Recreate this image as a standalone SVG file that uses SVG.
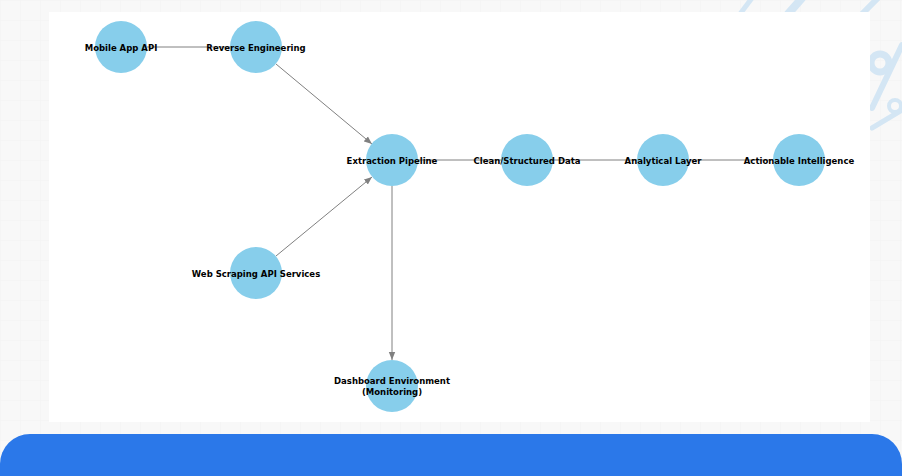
<svg xmlns="http://www.w3.org/2000/svg" width="902" height="476" viewBox="0 0 902 476">
<style>
.node circle{fill:#87ceeb}
.node text{font-family:"DejaVu Sans",sans-serif;font-weight:bold;font-size:8.5px;fill:#000;text-anchor:middle}
.edge{stroke:#808080;stroke-width:1;fill:none}
.deco{stroke:#d4e6f4;fill:none;stroke-linecap:round}
</style>
<defs>
<pattern id="grid" width="20" height="20" patternUnits="userSpaceOnUse">
<path d="M20 0H0V20" fill="none" stroke="#f2f2f2" stroke-width="1"/>
</pattern>
<marker id="arr" viewBox="0 0 10 10" refX="10" refY="5" markerWidth="8" markerHeight="8" markerUnits="userSpaceOnUse" orient="auto">
<path d="M0 1L10 5L0 9Z" fill="#808080"/>
</marker>
</defs>
<rect width="902" height="476" fill="#f8f8f8"/>
<rect width="902" height="476" fill="url(#grid)"/>
<g id="decoration">
<line class="deco" x1="740" y1="14" x2="752" y2="-2" stroke-width="5"/>
<line class="deco" x1="788" y1="14" x2="802" y2="-2" stroke-width="8"/>
<line class="deco" x1="862" y1="14" x2="878" y2="-2" stroke-width="6"/>
<circle class="deco" cx="880" cy="63" r="9" stroke-width="7"/>
<line class="deco" x1="872" y1="108" x2="902" y2="45" stroke-width="6"/>
<line class="deco" x1="872" y1="128" x2="902" y2="110" stroke-width="5"/>
<circle class="deco" cx="895" cy="106" r="6" stroke-width="4"/>
</g>
<rect x="49" y="12" width="821" height="410" fill="#ffffff"/>
<path d="M0 476V464A30 30 0 0 1 30 434H872A30 30 0 0 1 902 464V476Z" fill="#2b78e9"/>
<g id="connectors">
<line class="edge" x1="147" y1="47" x2="230" y2="47"/>
<line class="edge" x1="276" y1="64" x2="372" y2="144" marker-end="url(#arr)"/>
<line class="edge" x1="276" y1="256" x2="372" y2="177" marker-end="url(#arr)"/>
<line class="edge" x1="418" y1="160" x2="501" y2="160"/>
<line class="edge" x1="553" y1="160" x2="637" y2="160"/>
<line class="edge" x1="689" y1="160" x2="773" y2="160"/>
<line class="edge" x1="392" y1="186" x2="392" y2="360" marker-end="url(#arr)"/>
</g>
<g id="n-mobile" class="node"><circle cx="121" cy="47" r="26"/><text x="121" y="50.5">Mobile App API</text></g>
<g id="n-reverse" class="node"><circle cx="256" cy="47" r="26"/><text x="256" y="50.5">Reverse Engineering</text></g>
<g id="n-extraction" class="node"><circle cx="392" cy="160" r="26"/><text x="392" y="163.5">Extraction Pipeline</text></g>
<g id="n-clean" class="node"><circle cx="527" cy="160" r="26"/><text x="527" y="163.5">Clean/Structured Data</text></g>
<g id="n-analytical" class="node"><circle cx="663" cy="160" r="26"/><text x="663" y="163.5">Analytical Layer</text></g>
<g id="n-actionable" class="node"><circle cx="799" cy="160" r="26"/><text x="799" y="163.5">Actionable Intelligence</text></g>
<g id="n-webscraping" class="node"><circle cx="256" cy="273" r="26"/><text x="256" y="276.5">Web Scraping API Services</text></g>
<g id="n-dashboard" class="node"><circle cx="392" cy="386" r="26"/><text x="392" y="384">Dashboard Environment</text><text x="392" y="394.5">(Monitoring)</text></g>
</svg>
